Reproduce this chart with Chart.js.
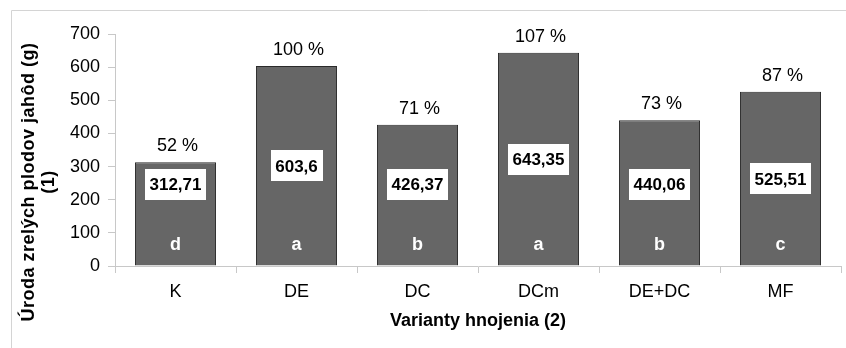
<!DOCTYPE html>
<html>
<head>
<meta charset="utf-8">
<script src="https://cdn.jsdelivr.net/npm/chart.js@4.4.0/dist/chart.umd.min.js"></script>
<style>
  body { margin: 0; background: #fff; }
  #wrap { width: 846px; height: 348px; position: relative; }
</style>
</head>
<body>
<div id="wrap"><canvas id="barChart" width="846" height="348"></canvas></div>
<script>
const categories = ['K', 'DE', 'DC', 'DCm', 'DE+DC', 'MF'];
const yields = [312.71, 603.6, 426.37, 643.35, 440.06, 525.51];
const yieldLabels = ['312,71', '603,6', '426,37', '643,35', '440,06', '525,51'];
const percentLabels = ['52 %', '100 %', '71 %', '107 %', '73 %', '87 %'];
const groupLetters = ['d', 'a', 'b', 'a', 'b', 'c'];
const yTicks = [0, 100, 200, 300, 400, 500, 600, 700];

const fontName = '"Liberation Sans", Arial, sans-serif';
const axisGray = '#c8c8c8';

// frame, axis title and the labels on the bars
const labelsPlugin = {
    id: 'barLabels',
    beforeDraw(chart) {
        const ctx = chart.ctx;
        ctx.save();
        ctx.strokeStyle = '#d4d4d4';
        ctx.lineWidth = 1;
        ctx.beginPath();
        ctx.moveTo(11.5, 348);
        ctx.lineTo(11.5, 10.5);
        ctx.lineTo(846, 10.5);
        ctx.stroke();
        ctx.restore();
    },
    afterDraw(chart) {
        const ctx = chart.ctx;
        const meta = chart.getDatasetMeta(0);
        const yScale = chart.scales.y;
        ctx.save();

        meta.data.forEach((bar, i) => {
            const x = bar.x;

            // percent above the bar
            ctx.font = '18px ' + fontName;
            ctx.fillStyle = '#000';
            ctx.textAlign = 'center';
            ctx.textBaseline = 'alphabetic';
            ctx.fillText(percentLabels[i], x + 2, bar.y - 11);

            // white box with the value
            ctx.font = 'bold 17px ' + fontName;
            const w = ctx.measureText(yieldLabels[i]).width + 9;
            const h = 31;
            const cy = yScale.getPixelForValue(Math.max(yields[i] / 2, 245));
            ctx.fillStyle = '#fff';
            ctx.fillRect(Math.round(x - w / 2), Math.round(cy - h / 2), Math.round(w), h);
            ctx.fillStyle = '#000';
            ctx.textBaseline = 'middle';
            ctx.fillText(yieldLabels[i], x, cy + 1);

            // significance letter
            ctx.font = 'bold 18px ' + fontName;
            ctx.fillStyle = '#fff';
            ctx.textBaseline = 'alphabetic';
            ctx.fillText(groupLetters[i], x, yScale.getPixelForValue(48));
        });

        // y axis title, two lines
        ctx.font = 'bold 18px ' + fontName;
        ctx.letterSpacing = '0.5px';
        ctx.fillStyle = '#000';
        ctx.textAlign = 'center';
        ctx.textBaseline = 'middle';
        ctx.translate(29, 182);
        ctx.rotate(-Math.PI / 2);
        ctx.fillText('Úroda zrelých plodov jahôd (g)', 0, 0);
        ctx.fillText('(1)', 0, 20);
        ctx.restore();
    }
};

const chart = new Chart(document.getElementById('barChart').getContext('2d'), {
    type: 'bar',
    data: {
        labels: categories,
        datasets: [{
            data: yields,
            backgroundColor: '#666666',
            borderColor: '#2a2a2a',
            borderWidth: 1,
            barPercentage: 0.67,
            categoryPercentage: 1
        }]
    },
    options: {
        responsive: false,
        animation: false,
        devicePixelRatio: 1,
        layout: { padding: { top: 34, right: 5, left: 0, bottom: 0 } },
        plugins: {
            legend: { display: false },
            tooltip: { enabled: false }
        },
        scales: {
            x: {
                offset: true,
                grid: {
                    offset: true,
                    drawOnChartArea: false,
                    drawTicks: true,
                    tickLength: 7,
                    color: axisGray
                },
                border: { color: axisGray },
                ticks: {
                    color: '#000',
                    padding: 8,
                    font: { family: fontName, size: 18 }
                },
                title: {
                    display: true,
                    text: 'Varianty hnojenia (2)',
                    color: '#000',
                    font: { family: fontName, size: 18, weight: 'bold' },
                    padding: { top: 0, bottom: 16 }
                },
                afterFit(scale) { scale.height = 82; }
            },
            y: {
                min: 0,
                max: 700,
                afterBuildTicks(scale) {
                    scale.ticks = yTicks.map(v => ({ value: v }));
                },
                grid: {
                    drawOnChartArea: false,
                    drawTicks: true,
                    tickLength: 7,
                    color: axisGray
                },
                border: { color: axisGray },
                ticks: {
                    color: '#000',
                    padding: 8,
                    font: { family: fontName, size: 18 }
                },
                afterFit(scale) { scale.width = 115; }
            }
        }
    },
    plugins: [labelsPlugin]
});
</script>
</body>
</html>
